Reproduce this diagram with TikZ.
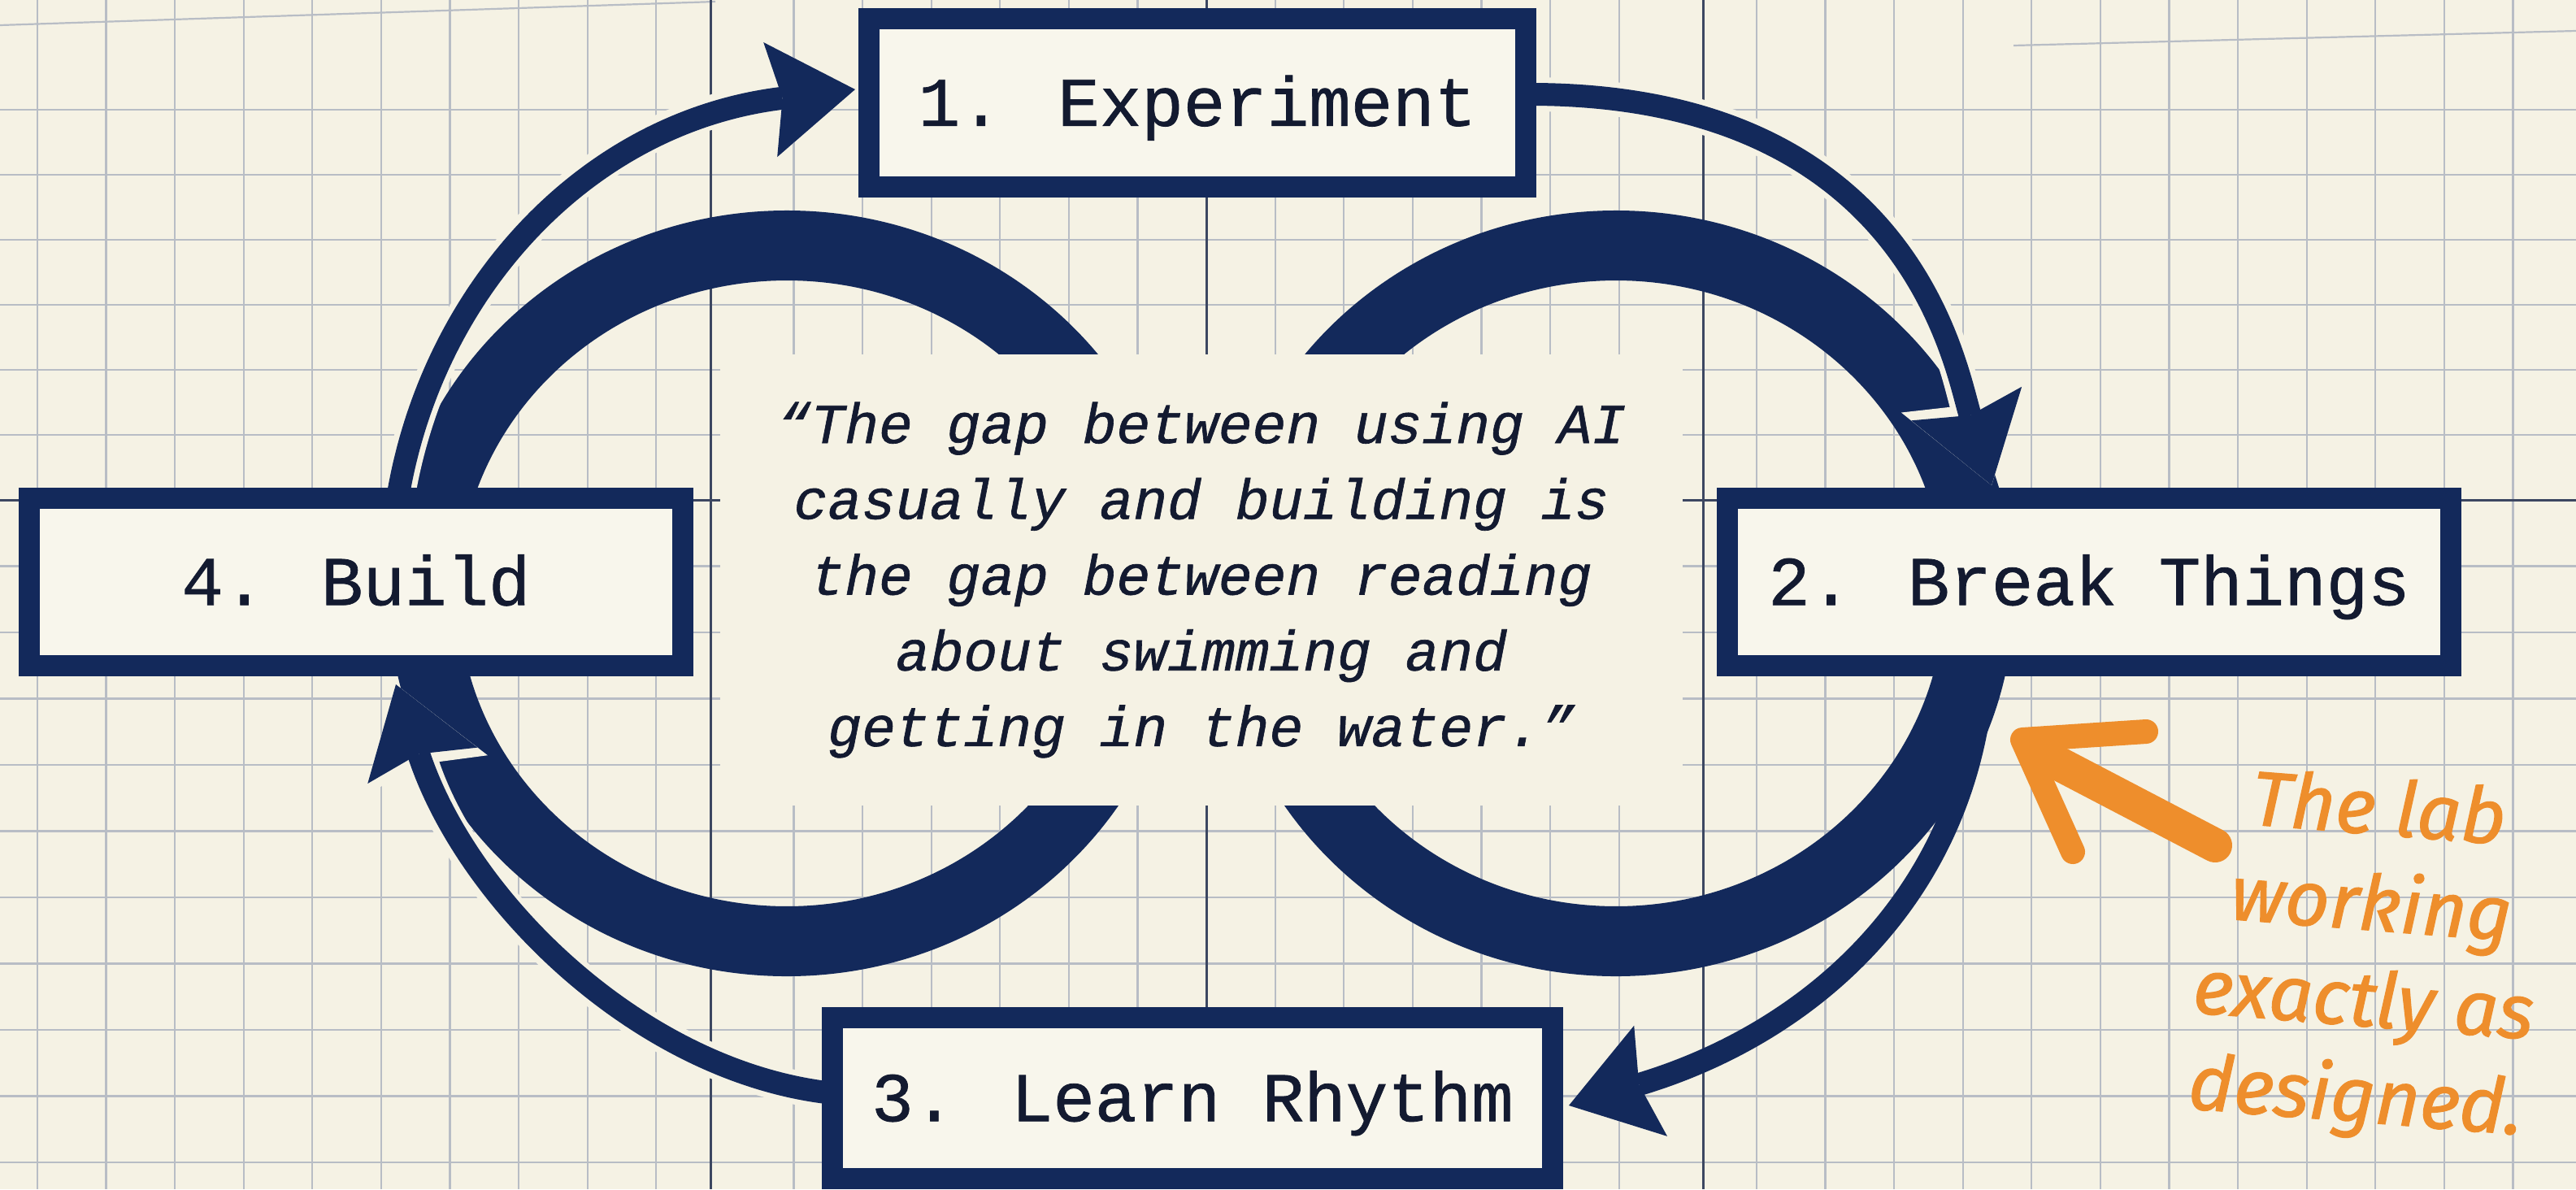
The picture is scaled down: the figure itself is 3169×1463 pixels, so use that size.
\documentclass[tikz,border=0pt]{standalone}
\usepackage{fontspec}
\setmainfont{Liberation Mono}
\newfontfamily\stagefont[FakeBold=0.9]{Liberation Mono}
\newfontfamily\notefont[FakeBold=1.2]{Fira Sans}
\usetikzlibrary{arrows.meta}
\definecolor{paper}{HTML}{F5F2E4}
\definecolor{boxfill}{HTML}{F8F6EC}
\definecolor{navy}{HTML}{13295B}
\definecolor{ink}{HTML}{131A30}
\definecolor{gridminor}{HTML}{B8BDC5}
\definecolor{gridmajor}{HTML}{3C4761}
\definecolor{noteorange}{HTML}{EE8E2C}
\tikzset{
 stage/.style={draw=navy, line width=0.26cm, fill=boxfill, inner sep=0pt, text=ink,
   font=\stagefont\fontsize{24.4}{29}\selectfont, text height=0.566cm, text depth=0pt},
 ring/.style={draw=navy, line width=0.86cm},
 cyc/.style={draw=navy, line width=0.28cm, -{Stealth[length=1.05cm, width=1.42cm, inset=0.15cm, line width=0pt]}},
 halo/.style={draw=paper, line width=0.42cm, -{Stealth[length=1.18cm, width=1.6cm, inset=0.15cm, line width=0pt]}},
 minor/.style={draw=gridminor, line width=0.022cm},
 major/.style={draw=gridmajor, line width=0.03cm},
 quotebox/.style={fill=paper, inner sep=0pt, minimum width=11.84cm, minimum height=5.55cm, align=center, text=ink,
   font=\stagefont\itshape\fontsize{19.8}{26.5}\selectfont},
 note/.style={text=noteorange, align=center, inner sep=0pt, font=\notefont\itshape\fontsize{27}{33.6}\selectfont},
 scribble/.style={draw=noteorange, line cap=round, line join=round},
}
\begin{document}
\begin{tikzpicture}[x=0.01cm, y=-0.01cm]
\useasboundingbox (0,0) rectangle (3169,1463);
\fill[paper] (0,0) rectangle (3169,1463);
% grid
\foreach \k in {-17,...,19}{
  \pgfmathtruncatemacro\ak{abs(\k)}
  \ifnum\ak=7\relax\else\ifnum\ak=0\relax\else
    \draw[minor] ({1484+84.6*\k},0) -- ({1484+84.6*\k},1463);
  \fi\fi
}
\foreach \k in {1,...,6} \draw[minor] (0,{615-80*\k}) -- (3169,{615-80*\k});
\foreach \k in {1,...,10} \draw[minor] (0,{615+81.5*\k}) -- (3169,{615+81.5*\k});
\draw[minor] (0,31) -- (880,2);
\draw[minor] (2477,56) -- (3169,38);
\draw[major] (874,0) -- (874,1463);
\draw[major] (1484,0) -- (1484,1463);
\draw[major] (2095,0) -- (2095,1463);
\draw[major] (0,615) -- (3169,615);
% coordinates
\coordinate (ringL) at (968,730);
\coordinate (ringR) at (1988,730);
\coordinate (a0) at (488,620);  \coordinate (a1) at (528,360);  \coordinate (a2) at (720,150);  \coordinate (a3) at (1052,110);
\coordinate (b0) at (1880,116); \coordinate (b1) at (2350,115); \coordinate (b2) at (2405,450); \coordinate (b3) at (2450,597);
\coordinate (c0) at (2440,830); \coordinate (c1) at (2420,1100); \coordinate (c2) at (2230,1270); \coordinate (c3) at (1930,1360);
\coordinate (d0) at (1025,1345); \coordinate (d1) at (790,1320); \coordinate (d2) at (575,1110); \coordinate (d3) at (487,842);
% arrow that passes under the ring
\draw[cyc] (c0) .. controls (c1) and (c2) .. (c3);
% rings
\draw[ring] (ringL) ellipse [x radius=447, y radius=428];
\draw[ring] (ringR) ellipse [x radius=447, y radius=428];
% quote panel
\node[quotebox] (quote) at (1478,713.5) {“The gap between using AI\\casually and building is\\the gap between reading\\about swimming and\\getting in the water.”};
% arrows over the rings
\draw[halo] (a0) .. controls (a1) and (a2) .. (a3);
\draw[cyc]  (a0) .. controls (a1) and (a2) .. (a3);
\draw[halo] (b0) .. controls (b1) and (b2) .. (b3);
\draw[cyc]  (b0) .. controls (b1) and (b2) .. (b3);
\draw[halo] (d0) .. controls (d1) and (d2) .. (d3);
\draw[cyc]  (d0) .. controls (d1) and (d2) .. (d3);
% stages
\node[stage, minimum width=8.08cm, minimum height=2.07cm] (exp) at (1473,126.5) {1. Experiment};
\node[stage, minimum width=8.90cm, minimum height=2.06cm] (brk) at (2570,716) {2. Break Things};
\node[stage, minimum width=8.04cm, minimum height=2.06cm] (bld) at (438,716) {4. Build};
\node[stage, minimum width=8.86cm, minimum height=1.98cm] (lrn) at (1467,1351) {3. Learn Rhythm};
% annotation
\node[note, rotate=-4.5] (note) at (2912,1178) {The lab\\working\\exactly as\\designed.};
\coordinate (o0) at (2725,1040); \coordinate (o1) at (2505,925);
\coordinate (o2) at (2640,900); \coordinate (o3) at (2488,910); \coordinate (o4) at (2550,1048);
\draw[scribble, line width=0.42cm] (o0) -- (o1);
\draw[scribble, line width=0.30cm] (o2) -- (o3) -- (o4);
\end{tikzpicture}
\end{document}
